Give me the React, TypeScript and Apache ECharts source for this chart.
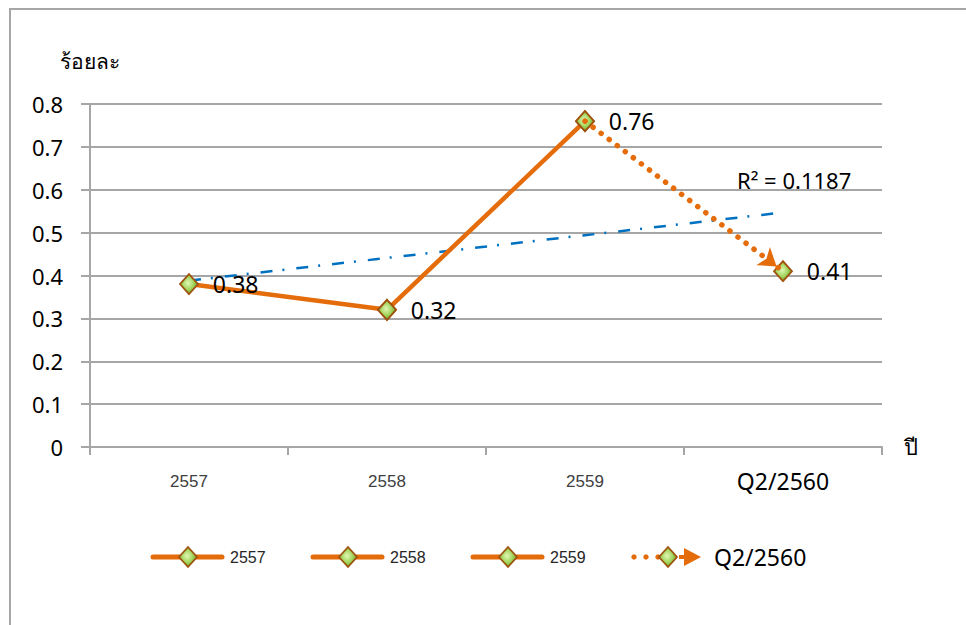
import React, { useEffect, useRef } from "react";
import * as echarts from "echarts";

const categories = ["2557", "2558", "2559", "Q2/2560"];
const values = [0.38, 0.32, 0.76, 0.41];
const legendNames = ["2557", "2558", "2559", "Q2/2560"];
const yAxisName = "ร้อยละ";
const xAxisName = "ปี";
const yMin = 0;
const yMax = 0.8;
const yInterval = 0.1;

const ORANGE = "#e46c0a";
const BLUE = "#0070c0";
const GRID = "#a6a6a6";
const NUM_FONT = "'Noto Sans', 'DejaVu Sans', sans-serif";
const SMALL_FONT = "'Liberation Sans', Arial, sans-serif";

const markerFill = () =>
  new echarts.graphic.RadialGradient(0.45, 0.45, 0.6, [
    { offset: 0, color: "#e2f7b8" },
    { offset: 0.55, color: "#9fd35a" },
    { offset: 1, color: "#5f9a25" },
  ]);

// linear trendline (least squares) from the data
const n = values.length;
const xMean = (n - 1) / 2;
const yMean = values.reduce((a, b) => a + b, 0) / n;
let sxy = 0;
let sxx = 0;
let syy = 0;
values.forEach((v, i) => {
  sxy += (i - xMean) * (v - yMean);
  sxx += (i - xMean) * (i - xMean);
  syy += (v - yMean) * (v - yMean);
});
const slope = sxy / sxx;
const intercept = yMean - slope * xMean;
const trend = categories.map((_, i) => +(intercept + slope * i).toFixed(4));
const r2 = (slope * slope * sxx) / syy;

function segment(from: number, to: number, labelIdx: number) {
  return categories.map((_, i) =>
    i >= from && i <= to
      ? { value: values[i], label: { show: i === labelIdx } }
      : { value: "-" }
  );
}

export default function App() {
  const ref = useRef<HTMLDivElement>(null);

  useEffect(() => {
    if (!ref.current) return;
    const chart = echarts.init(ref.current, undefined, { renderer: "svg" });

    const pointStyle = {
      color: markerFill(),
      borderColor: "#a0520f",
      borderWidth: 1.8,
    };
    const labelStyle = {
      position: "right",
      distance: 14,
      fontSize: 23,
      color: "#000",
      fontFamily: NUM_FONT,
    };
    const baseSeries = {
      type: "line",
      symbol: "diamond",
      symbolSize: [18, 20],
      itemStyle: pointStyle,
      lineStyle: { color: ORANGE, width: 4.5 },
      label: labelStyle,
      connectNulls: false,
      z: 3,
    };

    // legend drawn as graphics
    const legendY = 557;
    const legendGraphics: any[] = [];
    const diamond = (cx: number, cy: number) => ({
      type: "polygon",
      shape: {
        points: [
          [cx, cy - 10],
          [cx + 9, cy],
          [cx, cy + 10],
          [cx - 9, cy],
        ],
      },
      style: { fill: markerFill(), stroke: "#a0520f", lineWidth: 1.8 },
      z: 10,
    });
    const solidStarts = [153, 313, 473];
    for (let i = 0; i < 3; i++) {
      const x0 = solidStarts[i];
      legendGraphics.push({
        type: "line",
        shape: { x1: x0, y1: legendY, x2: x0 + 69, y2: legendY },
        style: { stroke: ORANGE, lineWidth: 5, lineCap: "round" },
        z: 9,
      });
      legendGraphics.push(diamond(x0 + 35, legendY));
      legendGraphics.push({
        type: "text",
        x: x0 + 77,
        y: legendY,
        style: {
          text: legendNames[i],
          fontSize: 16,
          fontFamily: SMALL_FONT,
          fill: "#262626",
          verticalAlign: "middle",
        },
        z: 10,
      });
    }
    legendGraphics.push(
      { type: "circle", shape: { cx: 634, cy: legendY, r: 2.7 }, style: { fill: ORANGE }, z: 9 },
      { type: "circle", shape: { cx: 646, cy: legendY, r: 2.7 }, style: { fill: ORANGE }, z: 9 },
      { type: "circle", shape: { cx: 658, cy: legendY, r: 2.7 }, style: { fill: ORANGE }, z: 9 },
      diamond(668, legendY),
      {
        type: "polygon",
        shape: { points: [[679, legendY - 2], [684, legendY - 2], [684, legendY - 9], [701, legendY], [684, legendY + 9], [684, legendY + 2], [679, legendY + 2]] },
        style: { fill: ORANGE },
        z: 9,
      },
      {
        type: "text",
        x: 714,
        y: legendY,
        style: {
          text: legendNames[3],
          fontSize: 23,
          fontFamily: NUM_FONT,
          fill: "#000",
          verticalAlign: "middle",
        },
        z: 10,
      }
    );

    chart.setOption({
      animation: false,
      backgroundColor: "#fff",
      grid: { left: 90, right: 84, top: 104, bottom: 178, containLabel: false },
      xAxis: {
        type: "category",
        data: categories,
        boundaryGap: true,
        name: xAxisName,
        nameLocation: "end",
        nameGap: 22,
        nameTextStyle: { fontSize: 22, color: "#000", verticalAlign: "middle" },
        axisLine: { show: true, lineStyle: { color: GRID, width: 2 } },
        axisTick: { show: true, length: 8, alignWithLabel: false, lineStyle: { color: GRID, width: 2 } },
        axisLabel: {
          margin: 19,
          interval: 0,
          formatter: (v: string) => (v === "Q2/2560" ? `{b|${v}}` : `{a|${v}}`),
          rich: {
            a: { fontSize: 17, color: "#404040", fontFamily: SMALL_FONT, lineHeight: 30 },
            b: { fontSize: 23, color: "#000", fontFamily: NUM_FONT, lineHeight: 30 },
          },
        },
        splitLine: { show: false },
      },
      yAxis: {
        type: "value",
        min: yMin,
        max: yMax,
        interval: yInterval,
        name: yAxisName,
        nameLocation: "end",
        nameGap: 32,
        nameTextStyle: { fontSize: 21, color: "#000", align: "center" },
        axisLine: { show: true, lineStyle: { color: GRID, width: 2 } },
        axisTick: { show: true, length: 9, lineStyle: { color: GRID, width: 2 } },
        axisLabel: { margin: 27, fontSize: 22, color: "#000", fontFamily: NUM_FONT },
        splitLine: { show: true, lineStyle: { color: GRID, width: 2 } },
      },
      series: [
        {
          name: "trend",
          type: "line",
          data: trend,
          symbol: "none",
          lineStyle: { color: BLUE, width: 2.5, type: [12, 10, 2, 12] },
          z: 2,
          silent: true,
        },
        { ...baseSeries, name: legendNames[0], data: segment(0, 1, 0) },
        { ...baseSeries, name: legendNames[1], data: segment(1, 2, 1) },
        { ...baseSeries, name: legendNames[2], data: segment(2, 2, 2) },
        {
          ...baseSeries,
          name: legendNames[3],
          data: segment(3, 3, 3),
          z: 4,
          markLine: {
            silent: true,
            animation: false,
            symbol: ["none", "arrow"],
            symbolSize: [17, 17],
            symbolOffset: [
              [0, 0],
              [0, 8],
            ],
            label: { show: false },
            lineStyle: { color: ORANGE, width: 5.5, type: [0.1, 10], cap: "round" },
            data: [
              [
                { coord: [categories[2], values[2]] },
                { coord: [categories[3], values[3]] },
              ],
            ],
          },
        },
      ],
      graphic: [
        {
          type: "rect",
          shape: { x: 10, y: 9, width: 1000, height: 700 },
          style: { fill: "none", stroke: GRID, lineWidth: 2 },
          silent: true,
          z: 0,
        },
        {
          type: "text",
          x: 737,
          y: 180,
          style: {
            text: `R² = ${r2.toFixed(4)}`,
            fontSize: 22,
            fontFamily: NUM_FONT,
            fill: "#000",
            verticalAlign: "middle",
          },
          z: 10,
        },
        ...legendGraphics,
      ],
    });

    return () => chart.dispose();
  }, []);

  return (
    <div
      ref={ref}
      style={{ position: "fixed", left: 0, top: 0, width: 966, height: 625, background: "#fff" }}
    />
  );
}
